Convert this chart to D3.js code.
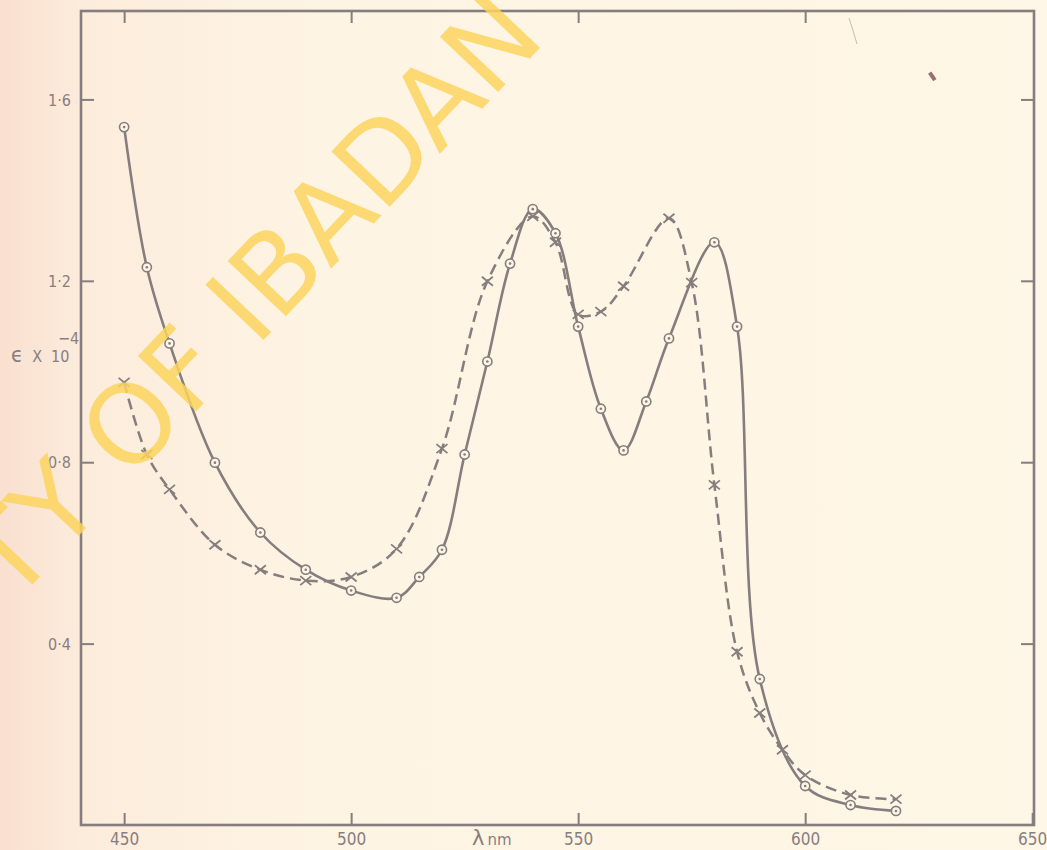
<!DOCTYPE html>
<html>
<head>
<meta charset="utf-8">
<script src="https://cdn.jsdelivr.net/npm/d3@7"></script>
<style>
  html, body { margin: 0; padding: 0; background: #fef5e4; }
  svg { display: block; }
</style>
</head>
<body>
<svg id="chart" width="1047" height="850"></svg>
<script>
// absorption spectra (wavelength in nm, eps x 10^-4)
const solidWl = [450, 455, 460, 470, 480, 490, 500, 510, 515, 520, 525, 530, 535, 540, 545, 550, 555, 560, 565, 570, 580, 585, 590, 600, 610, 620]
const solidEps = [1.539, 1.230, 1.062, 0.799, 0.645, 0.563, 0.517, 0.501, 0.547, 0.607, 0.817, 1.022, 1.238, 1.358, 1.305, 1.099, 0.918, 0.826, 0.934, 1.073, 1.285, 1.099, 0.322, 0.086, 0.044, 0.031]

const dashWl = [450, 455, 460, 470, 480, 490, 500, 510, 520, 530, 540, 545, 550, 555, 560, 570, 575, 580, 585, 590, 595, 600, 610, 620]
const dashEps = [0.976, 0.817, 0.740, 0.618, 0.563, 0.539, 0.547, 0.609, 0.830, 1.199, 1.342, 1.285, 1.126, 1.132, 1.188, 1.338, 1.196, 0.750, 0.382, 0.247, 0.166, 0.110, 0.066, 0.057]

const xTicks = [450, 500, 550, 600, 650]
const yTicks = [0.4, 0.8, 1.2, 1.6]
const yTickLabels = ['0·4', '0·8', '1·2', '1·6']

const ink = '#857d7e'
const paper = '#fef5e4'

let svg = d3.select('#chart')

// paper, a little pinker towards the left edge like the scan
let defs = svg.append('defs')
let grad = defs.append('linearGradient').attr('id', 'paper').attr('x1', 0).attr('x2', 1).attr('y1', 0).attr('y2', 0)
grad.append('stop').attr('offset', '0%').attr('stop-color', '#f9e0d0')
grad.append('stop').attr('offset', '8%').attr('stop-color', '#fcecdc')
grad.append('stop').attr('offset', '30%').attr('stop-color', '#fef4e3')
grad.append('stop').attr('offset', '100%').attr('stop-color', '#fef6e6')
svg.append('rect').attr('width', 1047).attr('height', 850).attr('fill', 'url(#paper)')

// scales: plot frame spans 440.5-650.4 nm and 0-1.795
let x = d3.scaleLinear().domain([440.5, 650.4]).range([81, 1034])
let y = d3.scaleLinear().domain([0, 1.795]).range([825, 11])

let g = svg.append('g')

// frame
g.append('rect')
  .attr('x', x(440.5)).attr('y', y(1.795))
  .attr('width', x(650.4) - x(440.5)).attr('height', y(0) - y(1.795))
  .attr('fill', 'none').attr('stroke', ink).attr('stroke-width', 2.6)

// axes with inward ticks
let axB = g.append('g').attr('transform', `translate(0,${y(0)})`)
  .call(d3.axisBottom(x).tickValues(xTicks).tickSizeInner(-12).tickSizeOuter(0).tickPadding(8).tickFormat(d3.format('d')))
let axT = g.append('g').attr('transform', `translate(0,${y(1.795)})`)
  .call(d3.axisTop(x).tickValues(xTicks.slice(0, 4)).tickSizeInner(-12).tickSizeOuter(0).tickFormat(''))
let axL = g.append('g').attr('transform', `translate(${x(440.5)},0)`)
  .call(d3.axisLeft(y).tickValues(yTicks).tickSizeInner(-13).tickSizeOuter(0).tickPadding(10).tickFormat((d, i) => yTickLabels[i]))
let axR = g.append('g').attr('transform', `translate(${x(650.4)},0)`)
  .call(d3.axisRight(y).tickValues(yTicks).tickSizeInner(-13).tickSizeOuter(0).tickFormat(''))

for (let ax of [axB, axT, axL, axR]) {
  ax.select('.domain').remove()
  ax.selectAll('line').attr('stroke', ink).attr('stroke-width', 2)
  ax.selectAll('text')
    .attr('fill', '#887e7f')
    .style('font-family', '"DejaVu Sans Condensed", "Liberation Sans Narrow", sans-serif')
}
axB.selectAll('text').style('font-size', '17px')
axL.selectAll('text').style('font-size', '16px').attr('dy', '0.36em')

// axis titles
let ytitle = g.append('text')
  .attr('x', 11).attr('y', 362)
  .attr('fill', '#887e7f')
  .style('font-family', '"DejaVu Sans Condensed", sans-serif')
  .style('font-size', '16px')
ytitle.append('tspan').style('font-size', '22px').text('ϵ')
ytitle.append('tspan').attr('dx', 9).text('X')
ytitle.append('tspan').attr('dx', 9).text('10')
g.append('text')
  .attr('x', 58).attr('y', 344)
  .attr('fill', '#887e7f')
  .style('font-family', '"DejaVu Sans Condensed", sans-serif')
  .style('font-size', '16px')
  .text('−4')

let xtitle = g.append('text')
  .attr('x', 472).attr('y', 845)
  .attr('fill', '#887e7f')
  .style('font-family', '"DejaVu Sans", sans-serif')
xtitle.append('tspan').style('font-size', '21px').text('λ')
xtitle.append('tspan').attr('dx', 3).style('font-size', '15px').text('nm')

// curves
let solid = solidWl.map((d, i) => ({ wl: d, eps: solidEps[i] }))
let dashed = dashWl.map((d, i) => ({ wl: d, eps: dashEps[i] }))

let line = d3.line()
  .x((d) => x(d.wl))
  .y((d) => y(d.eps))
  .curve(d3.curveCatmullRom.alpha(0.5))

g.append('path')
  .attr('d', line(dashed))
  .attr('fill', 'none').attr('stroke', ink).attr('stroke-width', 2.5)
  .attr('stroke-dasharray', '11,6')

g.append('path')
  .attr('d', line(solid))
  .attr('fill', 'none').attr('stroke', ink).attr('stroke-width', 2.6)

// markers: crosses for the dashed curve, ringed dots for the solid one
g.selectAll('path.cross')
  .data(dashed)
  .enter()
  .append('path')
  .attr('class', 'cross')
  .attr('transform', (d) => `translate(${x(d.wl)},${y(d.eps)})`)
  .attr('d', 'M-5.5,-4.5L5.5,4.5M-5.5,4.5L5.5,-4.5')
  .attr('stroke', ink).attr('stroke-width', 1.8).attr('fill', 'none')

let rings = g.selectAll('g.ring')
  .data(solid)
  .enter()
  .append('g')
  .attr('class', 'ring')
  .attr('transform', (d) => `translate(${x(d.wl)},${y(d.eps)})`)
rings.append('circle').attr('r', 4.6).attr('fill', paper).attr('stroke', ink).attr('stroke-width', 1.6)
rings.append('circle').attr('r', 1.3).attr('fill', ink)

// specks on the scan
g.append('rect').attr('x', 930).attr('y', 72).attr('width', 4).attr('height', 9)
  .attr('transform', 'rotate(-35,932,76)').attr('fill', '#9a6f70')
g.append('path').attr('d', 'M849,18Q853,30 857,44').attr('fill', 'none').attr('stroke', '#c8bcb6').attr('stroke-width', 1)

// library watermark, laid diagonally over the plot
const wmString = 'TY OF IBADAN'
let wm = svg.append('g').attr('transform', 'translate(130,423) rotate(-46.6)')
let wmText = wm.append('text')
  .attr('y', 40)
  .attr('fill', '#fcd35e')
  .attr('fill-opacity', 0.85)
  .style('font-family', '"DejaVu Sans", sans-serif')
  .style('font-size', '110px')
  .text(wmString)
// shift so the centre of the "O" of "OF" sits at the origin
let oIdx = wmString.indexOf('OF')
let oStart = wmText.node().getStartPositionOfChar(oIdx).x
let oEnd = wmText.node().getEndPositionOfChar(oIdx).x
wmText.attr('x', -(oStart + oEnd) / 2)
</script>
</body>
</html>
